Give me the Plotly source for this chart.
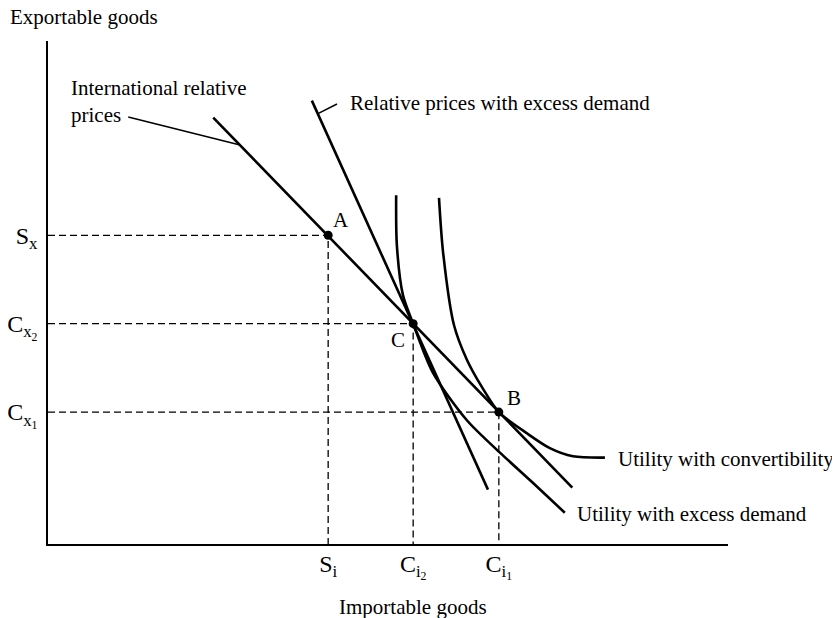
import plotly.graph_objects as go

# ---- data (importable goods on x, exportable goods on y) ----
point_names = ["A", "C", "B"]
importable = [4.12, 5.37, 6.63]          # S_i, C_i2, C_i1
exportable = [4.54, 3.24, 1.94]          # S_x, C_x2, C_x1
x_tick_text = ["S<sub>i</sub>", "C<sub>i<sub>2</sub></sub>", "C<sub>i<sub>1</sub></sub>"]
y_tick_text = ["S<sub>x</sub>", "C<sub>x<sub>2</sub></sub>", "C<sub>x<sub>1</sub></sub>"]

intl_x = [2.43, 7.71]
intl_y = [6.27, 0.83]
excess_price_x = [3.88, 6.47]
excess_price_y = [6.52, 0.80]
util_excess_x = [5.12, 5.13, 5.22, 5.37, 5.66, 6.16, 6.65, 7.13, 7.60]
util_excess_y = [5.13, 4.40, 3.66, 3.24, 2.52, 1.82, 1.34, 0.90, 0.46]
util_conv_x = [5.75, 5.81, 5.97, 6.16, 6.38, 6.63, 7.04, 7.38, 7.72, 8.19]
util_conv_y = [5.09, 4.29, 3.22, 2.71, 2.31, 1.94, 1.63, 1.41, 1.29, 1.27]
intl_leader_x = [1.18, 2.81]
intl_leader_y = [6.28, 5.87]
excess_leader_x = [3.97, 4.25]
excess_leader_y = [6.33, 6.47]

FONT = "Liberation Serif, Times New Roman, serif"
BLACK = "#000000"

fig = go.Figure()

# dashed guide lines
for xi, yi in zip(importable, exportable):
    fig.add_trace(go.Scatter(x=[0, xi, xi], y=[yi, yi, 0], mode="lines",
                             line=dict(color=BLACK, width=1.3, dash="7px,4px"),
                             hoverinfo="skip", showlegend=False))

# straight price lines
fig.add_trace(go.Scatter(x=intl_x, y=intl_y, mode="lines",
                         line=dict(color=BLACK, width=2.6), showlegend=False))
fig.add_trace(go.Scatter(x=excess_price_x, y=excess_price_y, mode="lines",
                         line=dict(color=BLACK, width=2.6), showlegend=False))

# indifference curves
fig.add_trace(go.Scatter(x=util_excess_x, y=util_excess_y, mode="lines",
                         line=dict(color=BLACK, width=2.6, shape="spline", smoothing=0.8),
                         showlegend=False))
fig.add_trace(go.Scatter(x=util_conv_x, y=util_conv_y, mode="lines",
                         line=dict(color=BLACK, width=2.6, shape="spline", smoothing=0.8),
                         showlegend=False))

# leader lines
fig.add_trace(go.Scatter(x=intl_leader_x, y=intl_leader_y, mode="lines",
                         line=dict(color=BLACK, width=1.5), showlegend=False))
fig.add_trace(go.Scatter(x=excess_leader_x, y=excess_leader_y, mode="lines",
                         line=dict(color=BLACK, width=1.5), showlegend=False))

# points
fig.add_trace(go.Scatter(x=importable, y=exportable, mode="markers",
                         marker=dict(color=BLACK, size=9), showlegend=False))

tf = dict(family=FONT, size=21, color=BLACK)
tick_font = dict(family=FONT, size=24, color=BLACK)
annotations = [
    dict(x=4.31, y=4.77, text="A", xref="x", yref="y", showarrow=False, font=tf),
    dict(x=5.15, y=3.00, text="C", xref="x", yref="y", showarrow=False, font=tf),
    dict(x=6.85, y=2.15, text="B", xref="x", yref="y", showarrow=False, font=tf),
    dict(x=0.31, y=6.51, text="International relative<br>prices", xref="x", yref="y",
         xanchor="left", yanchor="middle", align="left", showarrow=False, font=tf),
    dict(x=4.41, y=6.49, text="Relative prices with excess demand", xref="x", yref="y",
         xanchor="left", yanchor="middle", showarrow=False, font=tf),
    dict(x=8.35, y=1.25, text="Utility with convertibility", xref="x", yref="y",
         xanchor="left", yanchor="middle", showarrow=False, font=tf),
    dict(x=7.75, y=0.44, text="Utility with excess demand", xref="x", yref="y",
         xanchor="left", yanchor="middle", showarrow=False, font=tf),
    dict(x=-0.059, y=1.047, text="Exportable goods", xref="paper", yref="paper",
         xanchor="left", yanchor="middle", showarrow=False, font=tf),
    dict(x=0.537, y=-0.126, text="Importable goods", xref="paper", yref="paper",
         xanchor="center", yanchor="middle", showarrow=False, font=tf),
]

# the page body adds an 8px offset, so the figure is 8px smaller on each side
fig.update_layout(
    width=832, height=610,
    margin=dict(l=40, r=112, t=33, b=74, autoexpand=False),
    paper_bgcolor="white", plot_bgcolor="white",
    annotations=annotations,
    xaxis=dict(range=[0, 10], showgrid=False, zeroline=False, showline=True,
               linecolor=BLACK, linewidth=1.5, ticks="", automargin=False,
               tickvals=importable, ticktext=x_tick_text,
               tickfont=tick_font, ticklabelstandoff=-3),
    yaxis=dict(range=[0, 7.397], showgrid=False, zeroline=False, showline=True,
               linecolor=BLACK, linewidth=1.5, ticks="", automargin=False,
               tickvals=exportable, ticktext=y_tick_text,
               tickfont=tick_font, ticklabelstandoff=4),
)

fig.write_html("out.html")
